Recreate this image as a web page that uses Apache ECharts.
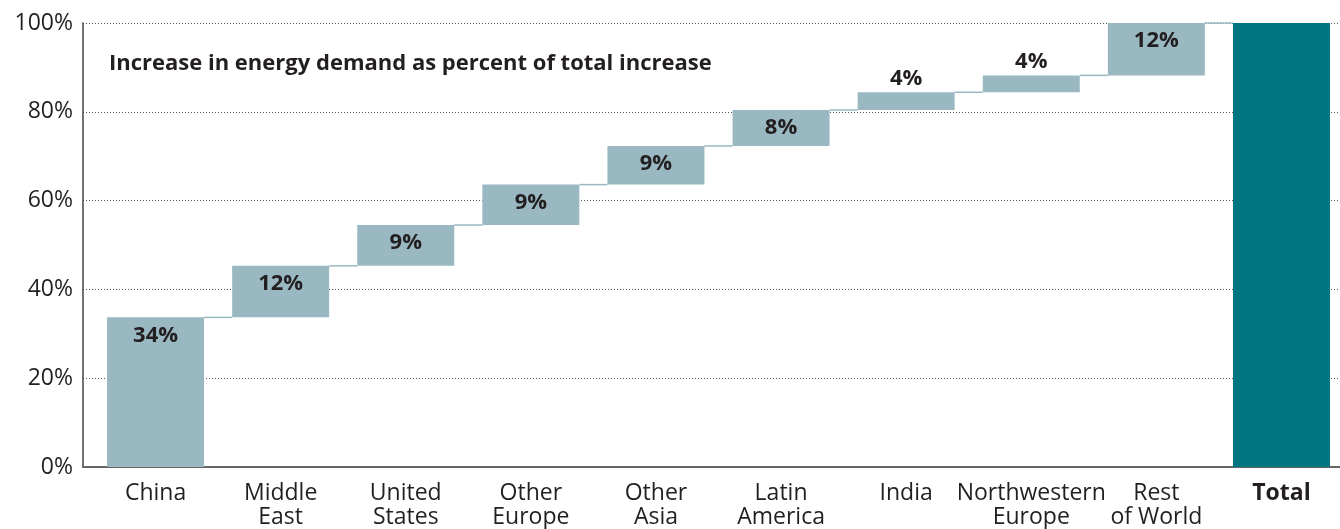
<!DOCTYPE html>
<html>
<head>
<meta charset="utf-8">
<script src="https://cdn.jsdelivr.net/npm/echarts@6/dist/echarts.min.js"></script>
<style>
html,body{margin:0;padding:0;background:#fff;}
#chart{width:1340px;height:529px;}
</style>
</head>
<body>
<div id="chart"></div>
<script>
const categories = ['China', 'Middle\nEast', 'United\nStates', 'Other\nEurope', 'Other\nAsia', 'Latin\nAmerica', 'India', 'Northwestern\nEurope', 'Rest\nof World', 'Total'];
const increments = [33.7, 11.6, 9.2, 9.1, 8.7, 8.1, 4.0, 3.8, 11.8];
const labelTexts = ['34%', '12%', '9%', '9%', '9%', '8%', '4%', '4%', '12%'];
const totalValue = 100;
const yTicks = [0, 20, 40, 60, 80, 100];
const titleText = 'Increase in energy demand as percent of total increase';

const LIGHT = '#99b8c2';
const DARK = '#007582';
const TEXT = '#231f20';
const FONT = '"Open Sans", "Noto Sans", sans-serif';
const BAR_W = 97;

// waterfall: [index, base, top]
const barData = [];
const tops = [];
let run = 0;
increments.forEach((v, i) => { barData.push([i, run, run + v]); run += v; tops.push(run); });
barData.push([categories.length - 1, 0, totalValue]);

const idx = categories.map((c, i) => i);
const connectorData = tops.map((t, i) => [i, t]);

const chart = echarts.init(document.getElementById('chart'), null, { renderer: 'canvas' });
chart.setOption({
  animation: false,
  backgroundColor: '#fff',
  title: {
    text: titleText,
    left: 104, top: 48,
    textStyle: { fontFamily: FONT, fontWeight: 'bold', fontSize: 22, color: TEXT }
  },
  grid: { left: 83, right: 0, top: 23, bottom: 60, containLabel: false },
  xAxis: {
    type: 'value',
    min: -0.58, max: 9.468,
    splitLine: { show: false },
    axisLine: { show: true, onZero: false, lineStyle: { color: '#666', width: 2 } },
    axisTick: { show: false },
    axisLabel: {
      customValues: idx,
      fontFamily: FONT, fontSize: 23, color: TEXT, lineHeight: 24, margin: 14,
      formatter: function (v) {
        const c = categories[Math.round(v)];
        return c === 'Total' ? '{b|Total}' : c;
      },
      rich: { b: { fontFamily: FONT, fontSize: 23, fontWeight: 'bold', color: TEXT } }
    }
  },
  yAxis: {
    type: 'value',
    min: 0, max: 100, interval: 20,
    axisLine: { show: true, onZero: false, lineStyle: { color: '#444', width: 1.5 } },
    axisTick: { show: false },
    axisLabel: {
      fontFamily: FONT, fontSize: 23, color: TEXT, margin: 10,
      formatter: function (v) { return yTicks.indexOf(v) >= 0 ? v + '%' : ''; }
    },
    splitLine: { show: true, lineStyle: { color: '#555', type: [1, 2], width: 1 } }
  },
  series: [
    {
      type: 'custom',
      data: connectorData,
      z: 1,
      renderItem: function (params, api) {
        const i = api.value(0);
        const lvl = api.value(1);
        const p1 = api.coord([i, lvl]);
        const p2 = api.coord([i + 1, lvl]);
        return {
          type: 'line',
          shape: { x1: p1[0] + BAR_W / 2, y1: p1[1], x2: p2[0] - BAR_W / 2, y2: p2[1] },
          style: { stroke: LIGHT, lineWidth: 1.5 }
        };
      }
    },
    {
      type: 'custom',
      data: barData,
      z: 2,
      encode: { x: 0, y: [1, 2] },
      renderItem: function (params, api) {
        const di = params.dataIndex;
        const i = api.value(0);
        const pb = api.coord([i, api.value(1)]);
        const pt = api.coord([i, api.value(2)]);
        const isTotal = di >= increments.length;
        const el = {
          type: 'rect',
          shape: { x: pb[0] - BAR_W / 2, y: pt[1], width: BAR_W, height: pb[1] - pt[1] },
          style: { fill: isTotal ? DARK : LIGHT }
        };
        if (!isTotal) {
          const small = increments[di] < 6;
          el.textContent = {
            style: { text: labelTexts[di], fontFamily: FONT, fontSize: 22, fontWeight: 'bold', fill: TEXT }
          };
          el.textConfig = { position: small ? 'top' : 'insideTop', distance: small ? 3 : 7 };
        }
        return el;
      }
    }
  ]
});
</script>
</body>
</html>
